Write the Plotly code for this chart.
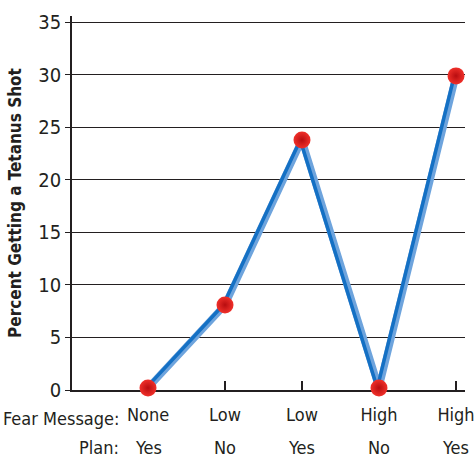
import plotly.graph_objects as go

fear = ["None", "Low", "Low", "High", "High"]
plan = ["Yes", "No", "Yes", "No", "Yes"]
pct = [0.2, 8.1, 23.8, 0.2, 29.9]
yticks = [0, 5, 10, 15, 20, 25, 30, 35]

xs = list(range(len(pct)))
FONT = "DejaVu Sans Condensed, DejaVu Sans, sans-serif"
TXT = "#231f20"
FS = 18

fig = go.Figure()
# light blue underlay
fig.add_trace(go.Scatter(x=xs, y=pct, mode="lines",
                         line=dict(color="#6ea4dd", width=7),
                         cliponaxis=False, hoverinfo="skip"))
# dark blue line (slightly shifted left via overlay axis)
fig.add_trace(go.Scatter(x=xs, y=pct, mode="lines",
                         line=dict(color="#1470c4", width=3.5),
                         cliponaxis=False, hoverinfo="skip", xaxis="x2"))
# red balls
fig.add_trace(go.Scatter(x=xs, y=pct, mode="markers",
                         marker=dict(size=17, color="#f0302a",
                                     gradient=dict(type="radial", color="#b80d10"),
                                     line=dict(width=0)),
                         cliponaxis=False, xaxis="x3"))

xr = [-0.987, 4.117]
sh = 0.022
fig.update_layout(
    width=476, height=466,
    margin=dict(l=72, r=11, t=16, b=76),
    plot_bgcolor="white", paper_bgcolor="white",
    showlegend=False,
    font=dict(family=FONT, color=TXT, size=FS),
    xaxis=dict(range=xr, tickvals=xs, ticktext=fear, ticks="inside", ticklen=9,
               tickwidth=1.5, tickcolor=TXT, showgrid=False, zeroline=False,
               showline=True, linecolor=TXT, linewidth=1.5, automargin=False,
               ticklabelstandoff=8, layer="below traces",
               tickfont=dict(size=FS, family=FONT, color=TXT)),
    xaxis2=dict(range=[xr[0] + sh, xr[1] + sh], overlaying="x", visible=False),
    xaxis3=dict(range=xr, overlaying="x", visible=False),
    yaxis=dict(range=[0, 35.6], tickvals=yticks, ticks="outside", ticklen=5,
               tickwidth=1.2, tickcolor=TXT, showgrid=True, gridcolor=TXT,
               gridwidth=1.4, zeroline=False, showline=True, linecolor=TXT,
               linewidth=1.5, automargin=False, layer="below traces",
               tickfont=dict(size=20, family=FONT, color=TXT),
               title=dict(text="<b>Percent Getting a Tetanus Shot</b>",
                          font=dict(size=17, family=FONT, color=TXT), standoff=12)),
)

for i, p in enumerate(plan):
    fig.add_annotation(x=i, y=-0.155, xref="x", yref="paper", text=p,
                       showarrow=False, font=dict(size=FS, family=FONT, color=TXT),
                       yanchor="middle")
lx = (121 - 72) / 393
fig.add_annotation(x=lx, y=-0.075, xref="paper", yref="paper", text="Fear Message:",
                   showarrow=False, xanchor="right", yanchor="middle",
                   font=dict(size=FS, family=FONT, color=TXT))
fig.add_annotation(x=lx, y=-0.155, xref="paper", yref="paper", text="Plan:",
                   showarrow=False, xanchor="right", yanchor="middle",
                   font=dict(size=FS, family=FONT, color=TXT))

fig.write_html("out.html", config={"displayModeBar": False},
               post_script="document.body.style.margin='0';document.body.style.padding='0';")
